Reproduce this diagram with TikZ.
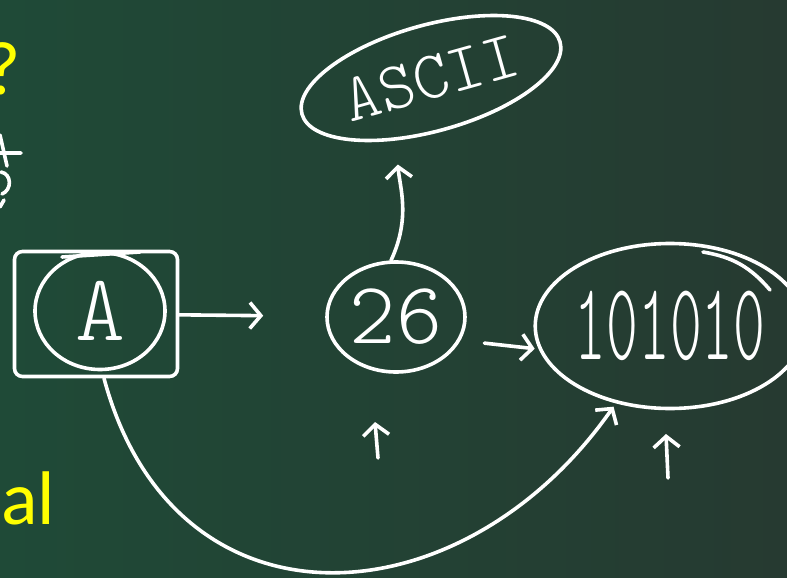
\documentclass[tikz,border=0pt]{standalone}
\usepackage{fontspec}
\setmainfont{Carlito}
\newfontfamily\chalkfont{Latin Modern Mono Light}
\usepackage{tikz}
\usetikzlibrary{arrows.meta,shapes}
\definecolor{boardleft}{HTML}{1F4A37}
\definecolor{boardright}{HTML}{263A31}
\definecolor{slideyellow}{HTML}{FFFF00}

\begin{document}
\begin{tikzpicture}[x=1pt, y=1pt,
  >={Straight Barb[length=11pt,width=26pt]},
  chalk/.style={draw=white, line width=3.6pt, line cap=round, line join=round},
  ring/.style={chalk, ellipse, inner sep=0pt, text=white},
  slide/.style={inner sep=0pt, text=slideyellow, font=\fontsize{76}{76}\selectfont}]
  % board
  \shade[left color=boardleft, right color=boardright] (0,0) rectangle (787,-578);
  \useasboundingbox (0,0) rectangle (787,-578);

  % slide text, cut at the left edge
  \node (ask) [slide, anchor=base east] at (21,-95) {?};
  \node (tail) [slide, anchor=base west] at (1,-524) {al};
  \draw[chalk] (0,-135) -- (7,-166) (0,-153) -- (21,-153)
    (1,-172) .. controls (12,-174) and (12,-190) .. (2,-194) (0,-207) -- (4,-200);

  % nodes
  \node (Abox) [chalk, rounded corners=8pt, minimum width=163pt, minimum height=125pt] at (96,-314) {};
  \node (A) [ring, minimum width=130pt, minimum height=117pt, font=\chalkfont\fontsize{95}{95}\selectfont] at (100,-311) {A};
  \node (n26) [ring, minimum width=138pt, minimum height=110pt, font=\chalkfont\fontsize{88}{88}\selectfont] at (396,-317) {26};
  \node (bin) [ring, minimum width=216pt, minimum height=165pt, font=\chalkfont\fontsize{110}{110}\selectfont] at (670,-326) {\scalebox{0.55}[1]{101010}};
  \node (ascii) [ring, minimum width=268pt, minimum height=106pt, rotate=15.6, font=\chalkfont\fontsize{68}{68}\selectfont] at (431,-78) {ASCII};
  \draw[chalk] (62,-257) -- (140,-252);
  \draw[chalk] (703,-252) to[bend left=20] (770,-290);

  \path[->]
  (Abox) edge [chalk, shorten >=62pt] (n26)
  (n26.95) edge [chalk, out=65, in=-85, shorten >=24pt] (ascii.225)
  (n26.-20) edge [chalk, shorten <=24pt, shorten >=4pt] (bin.190)
  ([xshift=8pt]Abox.south) edge [chalk, out=-75, in=-125, looseness=1.35, shorten >=4pt] (bin.235);

  % pointers
  \coordinate (ptr26) at (378,-458);
  \coordinate (ptrbin) at (668,-478);
  \draw[chalk, ->] (ptr26) -- ++(-3,36);
  \draw[chalk, ->] (ptrbin) -- ++(-2,44);
\end{tikzpicture}
\end{document}
